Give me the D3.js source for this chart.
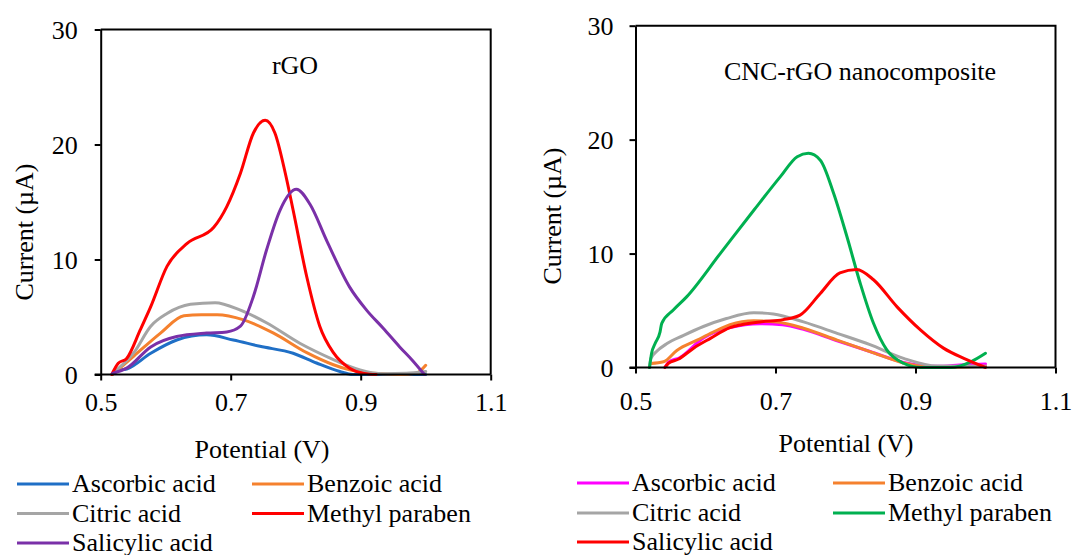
<!DOCTYPE html>
<html>
<head>
<meta charset="utf-8">
<script src="https://cdn.jsdelivr.net/npm/d3@7"></script>
<style>
  body { margin: 0; background: #fff; }
  svg text { font-family: "Liberation Serif", "Times New Roman", serif; fill: #000; }
</style>
</head>
<body>
<svg id="chart" width="1073" height="555"></svg>
<script>
// tick values for both panels
var voltageTicks = [0.5, 0.7, 0.9, 1.1];
var currentTicks = [0, 10, 20, 30];
var compounds = ["Ascorbic acid", "Benzoic acid", "Citric acid", "Methyl paraben", "Salicylic acid"];

// rGO panel, [potential V, current uA]
var rgoAscorbic = [[0.518,0],[0.528,0.35],[0.541,0.5],[0.577,1.85],[0.617,3.0],[0.663,3.45],[0.704,3.0],[0.745,2.45],[0.796,1.85],[0.832,1.0],[0.868,0.26],[0.888,0],[0.95,0],[1.0,0]];
var rgoBenzoic = [[0.518,0],[0.551,1.6],[0.592,3.6],[0.628,5.1],[0.655,5.2],[0.679,5.2],[0.72,4.75],[0.766,3.6],[0.817,1.9],[0.858,0.85],[0.883,0.4],[0.92,0.1],[0.96,0],[0.985,0.1],[1.0,0.8]];
var rgoCitric = [[0.518,0.1],[0.551,1.9],[0.577,4.2],[0.602,5.3],[0.638,6.1],[0.676,6.25],[0.715,5.6],[0.755,4.5],[0.807,2.7],[0.858,1.3],[0.883,0.7],[0.899,0.4],[0.934,0.06],[0.97,0.1],[1.0,0.26]];
var rgoMethyl = [[0.517,0],[0.527,0.97],[0.54,1.4],[0.561,3.9],[0.577,5.9],[0.602,9.4],[0.633,11.4],[0.674,12.8],[0.694,14.6],[0.715,17.5],[0.735,21.0],[0.753,22.1],[0.768,21.0],[0.784,17.5],[0.796,14.3],[0.817,8.5],[0.837,4.2],[0.858,1.9],[0.883,0.55],[0.905,0.1],[0.924,0]];
var rgoSalicylic = [[0.518,0.1],[0.54,0.55],[0.577,2.4],[0.617,3.3],[0.663,3.6],[0.694,3.7],[0.715,4.2],[0.735,6.8],[0.755,10.8],[0.776,14.3],[0.801,16.1],[0.822,14.8],[0.848,11.6],[0.883,7.6],[0.909,5.6],[0.935,4.0],[0.96,2.4],[0.98,1.2],[0.998,0]];

// CNC-rGO panel
var cncAscorbic = [[0.542,0],[0.548,0.5],[0.563,0.85],[0.597,2.6],[0.635,3.5],[0.678,3.85],[0.71,3.75],[0.74,3.35],[0.788,2.35],[0.835,1.4],[0.883,0.45],[0.93,0.1],[0.97,0.25],[1.0,0.3]];
var cncBenzoic = [[0.522,0.35],[0.54,0.5],[0.559,1.5],[0.588,2.4],[0.611,3.1],[0.635,3.75],[0.669,4.1],[0.702,4.0],[0.74,3.45],[0.788,2.4],[0.835,1.4],[0.883,0.4],[0.931,0],[1.0,0.1]];
var cncCitric = [[0.52,0],[0.522,0.8],[0.53,1.4],[0.545,2.1],[0.568,2.8],[0.597,3.6],[0.63,4.3],[0.669,4.8],[0.697,4.7],[0.74,4.0],[0.788,3.0],[0.835,2.0],[0.883,0.8],[0.931,0.13],[1.0,0.1]];
var cncMethyl = [[0.52,0],[0.523,1.25],[0.528,2.1],[0.535,3.1],[0.5375,3.88],[0.554,5.05],[0.573,6.2],[0.621,10.0],[0.669,13.8],[0.707,16.75],[0.731,18.5],[0.747,18.8],[0.764,18.2],[0.783,15.3],[0.802,11.5],[0.821,7.4],[0.84,3.88],[0.859,1.54],[0.883,0.37],[0.907,0],[0.95,0],[0.979,0.5],[1.0,1.25]];
var cncSalicylic = [[0.542,0],[0.547,0.37],[0.561,0.72],[0.583,1.7],[0.607,2.56],[0.635,3.5],[0.678,4.0],[0.711,4.2],[0.735,4.6],[0.764,6.5],[0.792,8.3],[0.816,8.6],[0.84,7.7],[0.874,5.3],[0.907,3.3],[0.94,1.7],[0.969,0.8],[1.0,0]];

var rgoColors = ["#1f6fc6", "#f5812e", "#a5a5a5", "#ff0000", "#7a30a8"];
var cncColors = ["#ff00ff", "#f5812e", "#a5a5a5", "#00b050", "#ff0000"];

var svg = d3.select("#chart");

function drawPanel(cfg) {
    var x = d3.scaleLinear().domain([0.5, 1.1]).range([cfg.left, cfg.right]);
    var y = d3.scaleLinear().domain([0, 30]).range([cfg.bottom, cfg.top]);
    var g = svg.append("g");

    // frame (top and right)
    g.append("path")
        .attr("d", "M" + x(0.5) + "," + y(30) + "H" + x(1.1) + "V" + y(0))
        .attr("fill", "none").attr("stroke", "#000").attr("stroke-width", 2);

    var line = d3.line()
        .x(function (d) { return x(d[0]); })
        .y(function (d) { return y(d[1]); })
        .curve(d3.curveMonotoneX);

    cfg.series.forEach(function (s, i) {
        g.append("path").datum(s)
            .attr("d", line)
            .attr("fill", "none")
            .attr("stroke", cfg.colors[i])
            .attr("stroke-width", 3)
            .attr("stroke-linejoin", "round")
            .attr("stroke-linecap", "round");
    });

    var yAxis = g.append("g").attr("transform", "translate(" + x(0.5) + ",0)")
        .call(d3.axisLeft(y).tickValues(currentTicks).tickSize(6).tickSizeOuter(0).tickPadding(cfg.yPad));
    var xAxis = g.append("g").attr("transform", "translate(0," + y(0) + ")")
        .call(d3.axisBottom(x).tickValues(voltageTicks).tickSize(6).tickSizeOuter(0).tickPadding(cfg.xPad).tickFormat(d3.format(".1f")));
    [yAxis, xAxis].forEach(function (a) {
        a.selectAll("path, line").attr("stroke", "#000").attr("stroke-width", 2);
        a.selectAll("text").attr("font-size", 26).attr("font-family", null).attr("fill", "#000");
    });
    yAxis.selectAll("text").attr("dy", "0.33em");
    // bottom axis line reaches a bit left of the y axis
    xAxis.select(".domain").attr("d", "M" + (x(0.5) - 6) + ",0H" + x(1.1));

    g.append("text").attr("x", cfg.titleX).attr("y", cfg.titleY)
        .attr("text-anchor", "middle").attr("font-size", 26).text(cfg.title);

    g.append("text").attr("x", cfg.xTitleX).attr("y", cfg.xTitleY)
        .attr("text-anchor", "middle").attr("font-size", 26).text("Potential (V)");

    g.append("text")
        .attr("transform", "translate(" + cfg.yTitleX + "," + cfg.yTitleY + ") rotate(-90)")
        .attr("text-anchor", "middle").attr("font-size", 26).text("Current (\u00b5A)");

    // legend, two columns
    var leg = g.append("g");
    compounds.forEach(function (name, i) {
        var col = i % 2, row = Math.floor(i / 2);
        var lx = cfg.legX[col], ly = cfg.legY[row];
        leg.append("line").attr("x1", lx).attr("x2", lx + 52).attr("y1", ly).attr("y2", ly)
            .attr("stroke", cfg.colors[i]).attr("stroke-width", 3);
        leg.append("text").attr("x", lx + 55).attr("y", ly + 8).attr("font-size", 26).text(name);
    });
}

drawPanel({
    left: 100.7, right: 490.7, top: 29.5, bottom: 374.5,
    series: [rgoAscorbic, rgoBenzoic, rgoCitric, rgoMethyl, rgoSalicylic],
    colors: rgoColors,
    title: "rGO", titleX: 295, titleY: 74,
    yPad: 17, xPad: 12,
    xTitleX: 262, xTitleY: 458, yTitleX: 33, yTitleY: 232,
    legX: [17, 252], legY: [484, 513.5, 543]
});

drawPanel({
    left: 635.5, right: 1055.5, top: 25.7, bottom: 367.5,
    series: [cncAscorbic, cncBenzoic, cncCitric, cncMethyl, cncSalicylic],
    colors: cncColors,
    title: "CNC-rGO nanocomposite", titleX: 860, titleY: 80,
    yPad: 16, xPad: 18,
    xTitleX: 846, xTitleY: 452, yTitleX: 561, yTitleY: 216,
    legX: [577, 833], legY: [483, 513, 542]
});
</script>
</body>
</html>
